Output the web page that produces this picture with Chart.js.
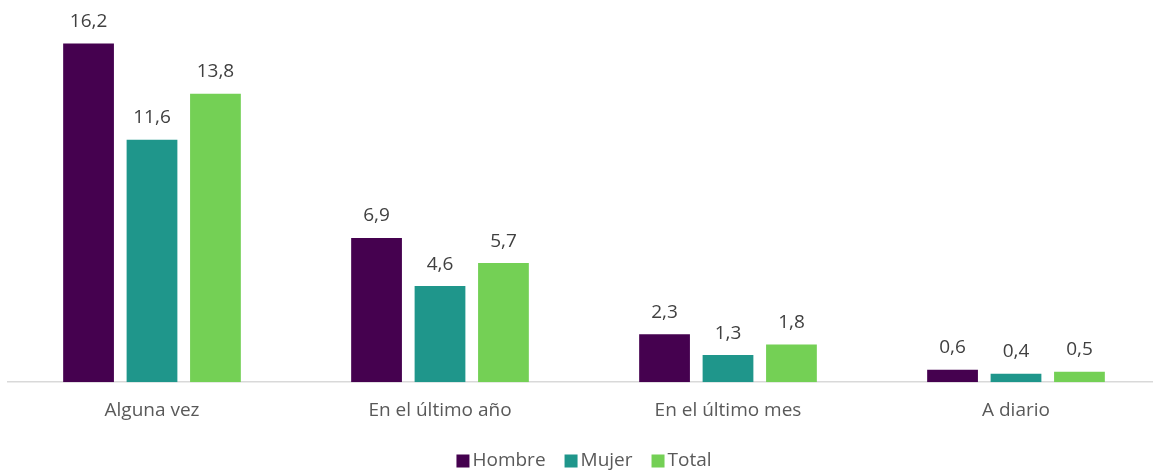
<!DOCTYPE html>
<html>
<head>
<meta charset="utf-8">
<script src="https://cdn.jsdelivr.net/npm/chart.js@4/dist/chart.umd.min.js"></script>
<style>
  html, body { margin: 0; padding: 0; background: #fff; overflow: hidden; }
  #wrap { width: 1153px; height: 474px; overflow: hidden; }
</style>
</head>
<body>
<div id="wrap"><canvas id="myChart" width="1162" height="474"></canvas></div>
<script>
// datos del gráfico
var categorias = ['Alguna vez', 'En el último año', 'En el último mes', 'A diario'];
var series = ['Hombre', 'Mujer', 'Total'];
var hombre = [16.2, 6.9, 2.3, 0.6];
var mujer = [11.6, 4.6, 1.3, 0.4];
var total = [13.8, 5.7, 1.8, 0.5];
var colores = ['#45014F', '#1F968B', '#74D055'];

var fuente = "'Open Sans', 'Liberation Sans', sans-serif";

// etiquetas encima de cada barra
var etiquetas = {
    id: 'etiquetas',
    afterDatasetsDraw: function(chart) {
        var ctx = chart.ctx;
        ctx.save();
        ctx.font = '19px ' + fuente;
        ctx.fillStyle = '#404040';
        ctx.textAlign = 'center';
        ctx.textBaseline = 'alphabetic';
        chart.data.datasets.forEach(function(ds, i) {
            chart.getDatasetMeta(i).data.forEach(function(bar, j) {
                var txt = ds.data[j].toFixed(1).replace('.', ',');
                ctx.fillText(txt, bar.x, bar.y - 16.5);
            });
        });
        ctx.restore();
    }
};

// leyenda abajo con el cuadrado pegado al texto (como en Excel)
var leyenda = {
    id: 'leyenda',
    afterDraw: function(chart) {
        var ctx = chart.ctx;
        var area = chart.chartArea;
        ctx.save();
        ctx.font = '19px ' + fuente;
        ctx.textBaseline = 'middle';
        var caja = 13, hueco = 3, sep = 19;
        var anchos = chart.data.datasets.map(function(ds) {
            return caja + hueco + ctx.measureText(ds.label).width;
        });
        var totalAncho = anchos.reduce(function(a, b) { return a + b; }, 0) + sep * (anchos.length - 1);
        var x = (area.left + area.right) / 2 - totalAncho / 2;
        var y = 461;
        chart.data.datasets.forEach(function(ds, i) {
            ctx.fillStyle = ds.backgroundColor;
            ctx.fillRect(x, y - 6.5, caja, caja);
            ctx.fillStyle = '#595959';
            ctx.fillText(ds.label, x + caja + hueco, y);
            x += anchos[i] + sep;
        });
        ctx.restore();
    }
};

window.onload = function() {
    var ctx = document.getElementById('myChart').getContext('2d');
    new Chart(ctx, {
        type: 'bar',
        data: {
            labels: categorias,
            datasets: [
                { label: series[0], data: hombre, backgroundColor: colores[0] },
                { label: series[1], data: mujer, backgroundColor: colores[1] },
                { label: series[2], data: total, backgroundColor: colores[2] }
            ]
        },
        options: {
            responsive: false,
            animation: false,
            layout: { padding: { left: 8, right: 2, top: 6, bottom: 35 } },
            datasets: {
                bar: { categoryPercentage: 0.661, barPercentage: 0.80 }
            },
            scales: {
                x: {
                    grid: { display: false, drawTicks: false },
                    border: { display: true, color: '#D9D9D9', width: 1.5 },
                    ticks: { color: '#595959', font: { family: fuente, size: 19 }, padding: 17 }
                },
                y: {
                    display: false,
                    min: 0,
                    max: 18
                }
            },
            plugins: {
                legend: { display: false },
                tooltip: { enabled: false }
            }
        },
        plugins: [etiquetas, leyenda]
    });
};
</script>
</body>
</html>
